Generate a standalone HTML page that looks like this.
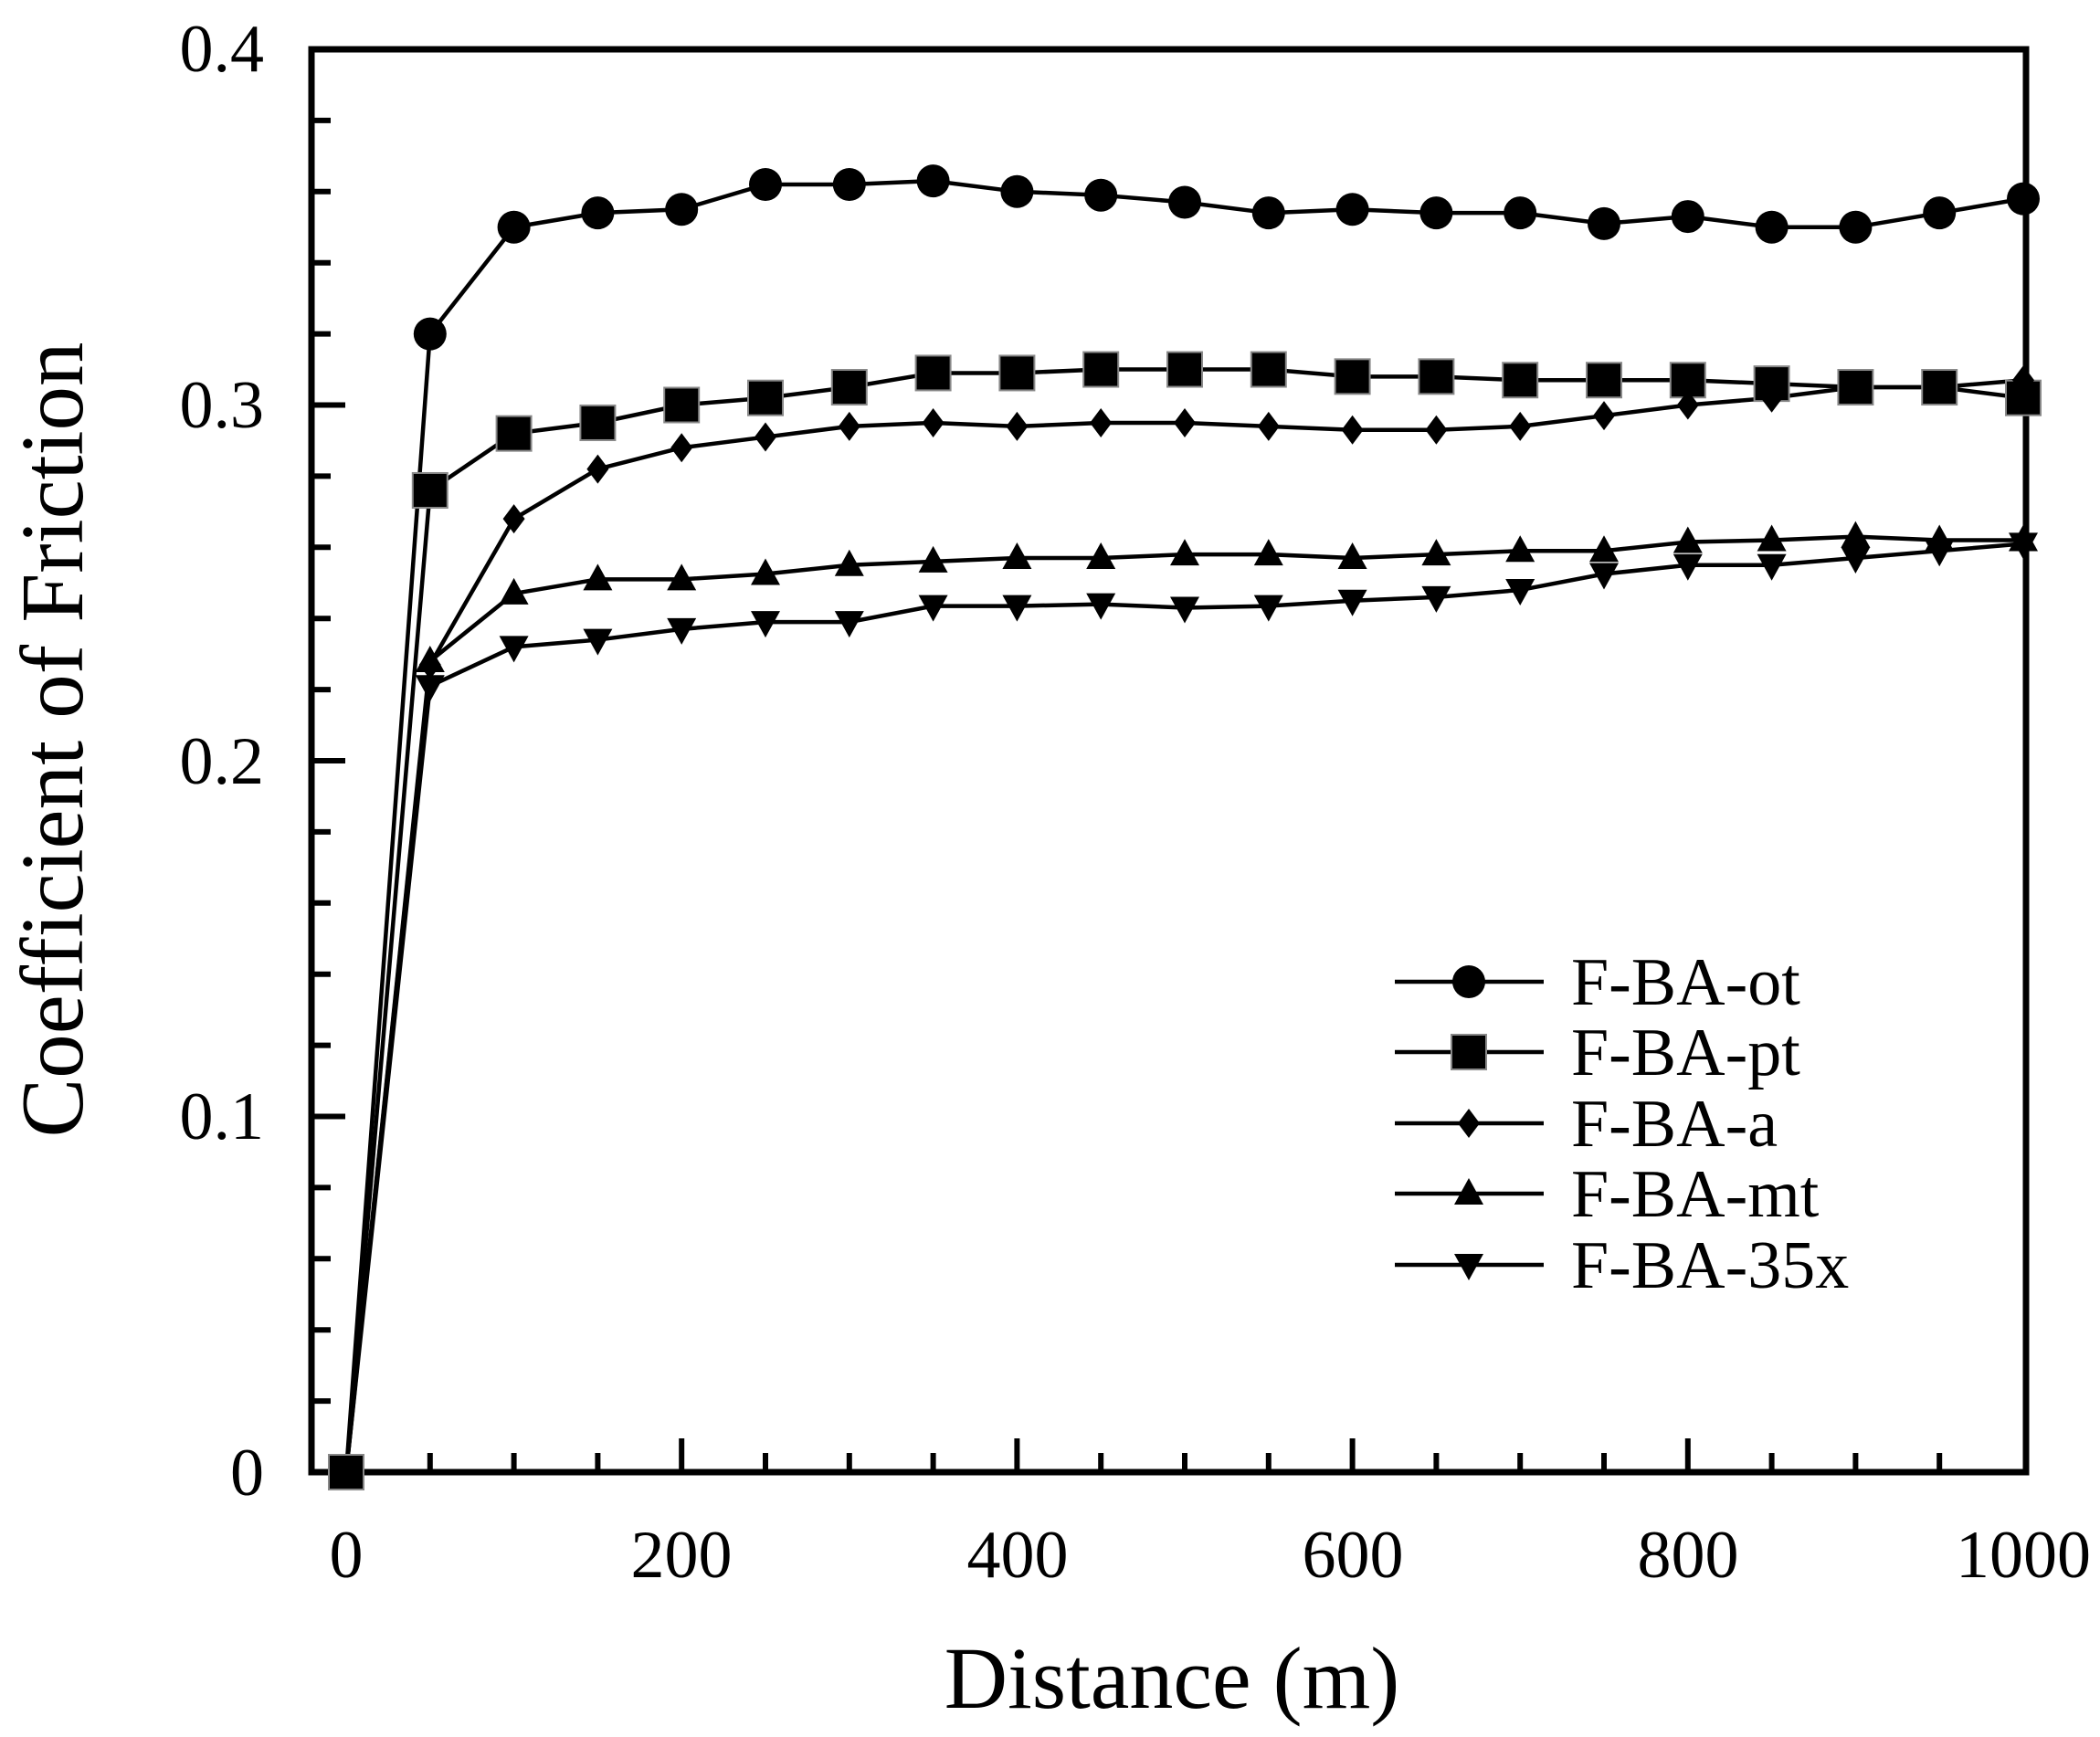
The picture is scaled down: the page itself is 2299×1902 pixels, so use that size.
<!DOCTYPE html>
<html><head><meta charset="utf-8"><style>html,body{margin:0;padding:0;background:#fff}svg{display:block}</style></head>
<body>
<svg id="s" width="2299" height="1902" viewBox="0 0 2299 1902" xmlns="http://www.w3.org/2000/svg" font-family="Liberation Serif, serif">
<rect width="2299" height="1902" fill="#fff"/>
<g id="ticks" stroke="#000" stroke-width="6"></g>
<rect x="341" y="54" width="1877" height="1558" fill="none" stroke="#000" stroke-width="7"/>
<g id="data"></g>
<g font-size="74" text-anchor="end">
<text x="289" y="78">0.4</text>
<text x="289" y="468">0.3</text>
<text x="289" y="858">0.2</text>
<text x="289" y="1247">0.1</text>
<text x="289" y="1637">0</text>
</g>
<g font-size="74" text-anchor="middle">
<text x="379" y="1727">0</text>
<text x="746" y="1727">200</text>
<text x="1114" y="1727">400</text>
<text x="1481" y="1727">600</text>
<text x="1848" y="1727">800</text>
<text x="2215" y="1727">1000</text>
</g>
<text x="1283" y="1870" font-size="96" text-anchor="middle">Distance (m)</text>
<text transform="translate(90,810) rotate(-90)" font-size="97" text-anchor="middle">Coefficient of Friction</text>
<g font-size="74">
<text x="1720" y="1100">F-BA-ot</text>
<text x="1720" y="1177">F-BA-pt</text>
<text x="1720" y="1255">F-BA-a</text>
<text x="1720" y="1332">F-BA-mt</text>
<text x="1720" y="1410">F-BA-35x</text>
</g>
<g id="leg"></g>
</svg>
<script>
var NS="http://www.w3.org/2000/svg";
function el(p,t,a){var e=document.createElementNS(NS,t);for(var k in a)e.setAttribute(k,a[k]);p.appendChild(e);return e;}
var X=function(v){return 379+v*1.836;},Y=function(v){return 1612-v*3895;};
var tk=document.getElementById('ticks');
for(var i=1;i<20;i++){var y=1612-i*77.9;var L=(i%5==0)?37:21;el(tk,'line',{x1:341,x2:341+L,y1:y,y2:y});}
for(var i=1;i<20;i++){var x=X(i*50);var L=(i%4==0)?37:21;el(tk,'line',{x1:x,x2:x,y1:1612,y2:1612-L});}
var xs=[];for(var i=0;i<=20;i++)xs.push(i*50);
var D=[
['c',[0,.320,.350,.354,.355,.362,.362,.363,.360,.359,.357,.354,.355,.354,.354,.351,.353,.350,.350,.354,.358]],
['s',[0,.276,.292,.295,.300,.302,.305,.309,.309,.310,.310,.310,.308,.308,.307,.307,.307,.306,.305,.305,.302]],
['d',[0,.227,.268,.282,.288,.291,.294,.295,.294,.295,.295,.294,.293,.293,.294,.297,.300,.302,.305,.305,.307]],
['u',[0,.228,.247,.251,.251,.2525,.255,.256,.257,.257,.258,.258,.257,.258,.259,.259,.2615,.262,.263,.262,.262]],
['v',[0,.221,.232,.234,.237,.239,.239,.2435,.2435,.244,.243,.2435,.245,.246,.248,.2525,.255,.255,.257,.259,.261]]];
function mk(g,t,x,y){
 if(t=='c')el(g,'circle',{cx:x,cy:y,r:18,fill:'#000'});
 if(t=='s')el(g,'rect',{x:x-19,y:y-19,width:38,height:38,fill:'#000',stroke:'#888','stroke-width':2});
 if(t=='d')el(g,'polygon',{points:(x)+','+(y-16)+' '+(x+12)+','+y+' '+x+','+(y+16)+' '+(x-12)+','+y,fill:'#000'});
 if(t=='u')el(g,'polygon',{points:x+','+(y-17)+' '+(x+16)+','+(y+12)+' '+(x-16)+','+(y+12),fill:'#000'});
 if(t=='v')el(g,'polygon',{points:x+','+(y+17)+' '+(x+16)+','+(y-12)+' '+(x-16)+','+(y-12),fill:'#000'});
}
var g=document.getElementById('data');
D.forEach(function(s){var p=s[1].map(function(v,i){return X(xs[i])+','+Y(v);}).join(' ');
 el(g,'polyline',{points:p,fill:'none',stroke:'#000','stroke-width':4.5});});
D.forEach(function(s){s[1].forEach(function(v,i){mk(g,s[0],X(xs[i]),Y(v));});});
var lg=document.getElementById('leg');var ly=[1075,1152,1230,1307,1385];
D.forEach(function(s,i){el(lg,'line',{x1:1527,x2:1690,y1:ly[i],y2:ly[i],stroke:'#000','stroke-width':4.5});mk(lg,s[0],1608,ly[i]);});
</script>
</body></html>
